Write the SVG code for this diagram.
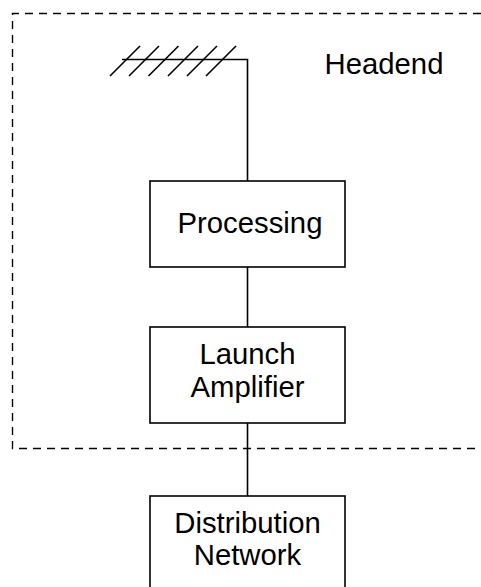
<svg xmlns="http://www.w3.org/2000/svg" width="481" height="587" viewBox="0 0 481 587">
  <style>
    .box { fill: #fff; stroke: #000; stroke-width: 1.6; }
    .wire { fill: none; stroke: #000; stroke-width: 1.6; }
    .frame { fill: none; stroke: #000; stroke-width: 1.4; stroke-dasharray: 8 6; }
    .label { font-family: "Liberation Sans", Arial, sans-serif; font-size: 29.3px; fill: #000; text-anchor: middle; }
  </style>

  <!-- headend boundary (open to the right) -->
  <g id="headend">
    <path class="frame" d="M481 13.5 H12.5 V448.5 H481"/>
    <text class="label" x="384" y="74">Headend</text>
  </g>

  <!-- receiving antenna symbol -->
  <g id="antenna">
    <path class="wire" d="M122 59.5 H247.5 V181"/>
    <path class="wire" d="M110 76 L140 46 M129 76 L159 46 M148.5 76 L178.5 46 M168 76 L198 46 M187 76 L217 46 M206 76 L236 46"/>
  </g>

  <g id="connectors">
    <line class="wire" x1="247.5" y1="267" x2="247.5" y2="327"/>
    <line class="wire" x1="247.5" y1="423" x2="247.5" y2="496"/>
  </g>

  <g id="processing">
    <rect class="box" x="150" y="181" width="195" height="86"/>
    <text class="label" x="250" y="233">Processing</text>
  </g>

  <g id="launch-amplifier">
    <rect class="box" x="150" y="327" width="195" height="96"/>
    <text class="label" x="247.5" y="364">Launch</text>
    <text class="label" x="247.5" y="397">Amplifier</text>
  </g>

  <g id="distribution-network">
    <rect class="box" x="150" y="496" width="195" height="100"/>
    <text class="label" x="247.5" y="533">Distribution</text>
    <text class="label" x="247.5" y="565">Network</text>
  </g>
</svg>
